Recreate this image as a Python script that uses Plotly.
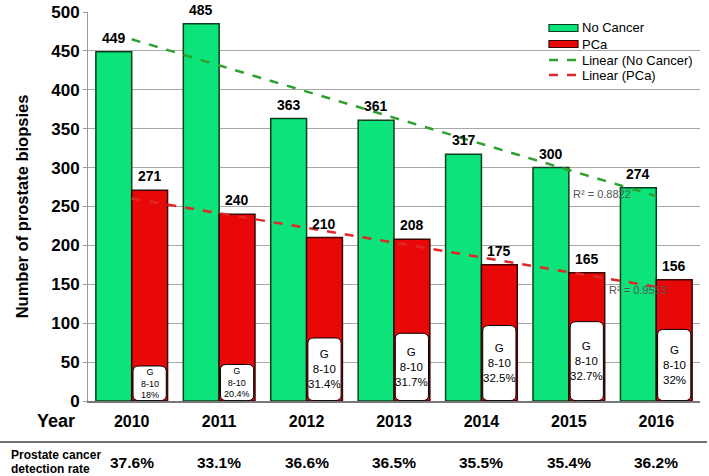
import plotly.graph_objects as go
import numpy as np

years = ["2010", "2011", "2012", "2013", "2014", "2015", "2016"]
no_cancer = [449, 485, 363, 361, 317, 300, 274]
pca = [271, 240, 210, 208, 175, 165, 156]
g810_pct = ["18%", "20.4%", "31.4%", "31.7%", "32.5%", "32.7%", "32%"]
g810_box_top = [45, 47, 81, 87, 97, 102, 92]
detection_rate = ["37.6%", "33.1%", "36.6%", "36.5%", "35.5%", "35.4%", "36.2%"]
r2_no_cancer = "0.8822"
r2_pca = "0.9553"
legend_names = ["No Cancer", "PCa", "Linear (No Cancer)", "Linear (PCa)"]
row_label_lines = ["Prostate cancer", "detection rate"]

FONT = "Liberation Sans"
GREEN = "#0CE37A"
GREEN_EDGE = "#0B3F1E"
RED = "#E80808"
RED_EDGE = "#3A0505"
TREND_G = "#2EA02E"
TREND_R = "#E02828"

idx = np.arange(len(years))
bargap = 0.18
bw = (1 - bargap) / 2
off = bw / 2

L, R, T, B = 88, 9, 12, 75
PW = 709 - L - R
PH = 476 - T - B


def fit(vals):
    k, b = np.polyfit(idx, vals, 1)
    return list(k * idx + b)


def px(p):
    return (p - L) / PW


def py(p):
    return (476 - B - p) / PH


fig = go.Figure()
fig.add_trace(go.Bar(x=idx - off, y=no_cancer, width=bw, name=legend_names[0],
                     marker=dict(color=GREEN, line=dict(color=GREEN_EDGE, width=1.5))))
fig.add_trace(go.Bar(x=idx + off, y=pca, width=bw, name=legend_names[1],
                     marker=dict(color=RED, line=dict(color=RED_EDGE, width=1.5))))
fig.add_trace(go.Scatter(x=idx, y=fit(no_cancer), mode="lines", name=legend_names[2],
                         line=dict(color=TREND_G, width=2.5, dash="dash")))
fig.add_trace(go.Scatter(x=idx, y=fit(pca), mode="lines", name=legend_names[3],
                         line=dict(color=TREND_R, width=2.5, dash="dash")))

ann = []
shapes = []


def add_text(**kw):
    kw.setdefault("showarrow", False)
    kw.setdefault("xanchor", "center")
    kw.setdefault("yanchor", "middle")
    ann.append(kw)


# value labels
for i in idx:
    add_text(x=i - off, y=no_cancer[i], text=f"<b>{no_cancer[i]}</b>", yshift=14,
             font=dict(size=14, color="black", family=FONT))
    add_text(x=i + off, y=pca[i], text=f"<b>{pca[i]}</b>", yshift=14,
             font=dict(size=14, color="black", family=FONT))

# G 8-10 rounded boxes
for i in idx:
    x0 = i + off - bw / 2 + 0.015
    x1 = i + off + bw / 2 - 0.015
    y0 = 0.5
    y1 = g810_box_top[i]
    rx, ry = 0.07, 7
    path = (f"M {x0+rx},{y0} L {x1-rx},{y0} Q {x1},{y0} {x1},{y0+ry} "
            f"L {x1},{y1-ry} Q {x1},{y1} {x1-rx},{y1} L {x0+rx},{y1} "
            f"Q {x0},{y1} {x0},{y1-ry} L {x0},{y0+ry} Q {x0},{y0} {x0+rx},{y0} Z")
    shapes.append(dict(type="path", path=path, xref="x", yref="y",
                       fillcolor="white", line=dict(color="black", width=1)))
    fs = 9 if i < 2 else 11.5
    add_text(x=i + off, y=(y0 + y1) / 2, text=f"G<br>8-10<br>{g810_pct[i]}",
             font=dict(size=fs, color="black", family=FONT))

# R² labels
add_text(x=5.03, y=266, text=f"R² = {r2_no_cancer}", xanchor="left",
         font=dict(size=11, color="#555555", family=FONT))
add_text(x=5.44, y=143, text=f"R² = {r2_pca}", xanchor="left",
         font=dict(size=11, color="#555555", family=FONT))

# manual legend
leg_rows = [28, 44, 60, 75]
for k, name in enumerate(legend_names):
    yy = py(leg_rows[k])
    if k < 2:
        fill, edge = (GREEN, GREEN_EDGE) if k == 0 else (RED, RED_EDGE)
        shapes.append(dict(type="rect", xref="paper", yref="paper",
                           x0=px(549), x1=px(578), y0=py(leg_rows[k] + 3.5), y1=py(leg_rows[k] - 3.5),
                           fillcolor=fill, line=dict(color=edge, width=1.2)))
    else:
        col = TREND_G if k == 2 else TREND_R
        shapes.append(dict(type="line", xref="paper", yref="paper",
                           x0=px(549), x1=px(578), y0=yy, y1=yy,
                           line=dict(color=col, width=2.5, dash="dash")))
    add_text(xref="paper", yref="paper", x=px(580), y=yy, xanchor="left", text=name,
             font=dict(size=13, color="black", family=FONT))

# Year label
add_text(xref="paper", yref="paper", x=px(56), y=py(421), text="<b>Year</b>",
         font=dict(size=18, color="black", family=FONT))
# separator line
shapes.append(dict(type="line", xref="paper", yref="paper", x0=px(0), x1=px(707),
                   y0=py(442), y1=py(442), line=dict(color="#444444", width=1.5)))
# detection label (two lines)
for j, line_txt in enumerate(row_label_lines):
    add_text(xref="paper", yref="paper", x=px(9), y=py(455 + 14 * j), xanchor="left",
             text=f"<b>{line_txt}</b>", font=dict(size=12, color="black", family=FONT))
for i in idx:
    add_text(x=i, xref="x", yref="paper", y=py(462), text=f"<b>{detection_rate[i]}</b>",
             font=dict(size=15.5, color="black", family=FONT))

fig.update_layout(
    width=709, height=476,
    margin=dict(l=L, r=R, t=T, b=B, autoexpand=False),
    paper_bgcolor="white", plot_bgcolor="white",
    barmode="overlay",
    showlegend=False,
    annotations=ann, shapes=shapes,
    font=dict(family=FONT, color="black"),
)
fig.update_xaxes(range=[-0.5, 6.5], tickvals=list(idx), ticktext=years, automargin=False,
                 tickfont=dict(size=16, family=FONT, color="black", weight="bold"),
                 ticks="outside", ticklen=5, tickcolor="rgba(0,0,0,0)",
                 showline=True, linecolor="#777777", linewidth=1.5, showgrid=False, zeroline=False)
fig.update_yaxes(range=[0, 500], dtick=50, automargin=False,
                 tickfont=dict(size=17, family=FONT, color="black", weight="bold"),
                 ticks="outside", ticklen=4, tickcolor="#999999",
                 showline=True, linecolor="#999999", linewidth=1,
                 showgrid=True, gridcolor="#A8A8A8", gridwidth=1, zeroline=False,
                 title=dict(text="Number of prostate biopsies", standoff=18,
                            font=dict(size=16.5, family=FONT, color="black", weight="bold")))

fig.write_html("out.html", config={"displayModeBar": False},
               post_script="document.body.style.margin='0';")
